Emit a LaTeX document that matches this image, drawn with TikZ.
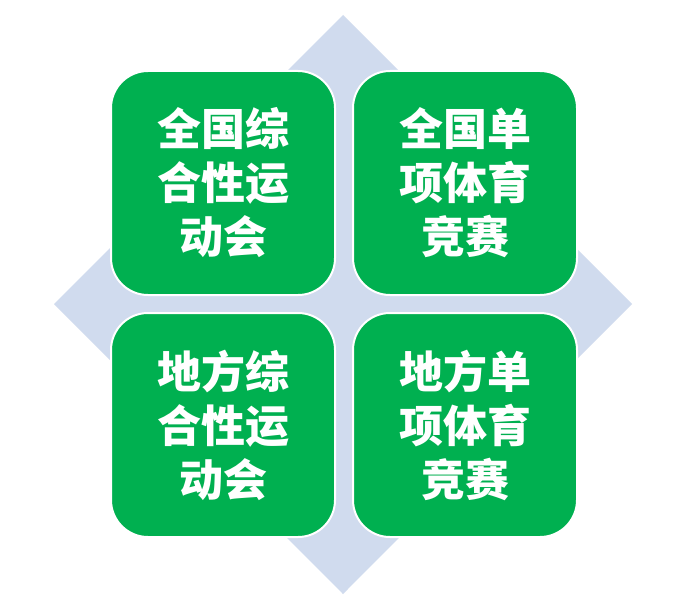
\documentclass[tikz,border=0pt]{standalone}
\usepackage{fontspec}
\newfontfamily\cjk{Noto Sans CJK SC}
\definecolor{boxgreen}{RGB}{0,176,80}
\definecolor{diamondblue}{RGB}{208,219,238}
\begin{document}
\begin{tikzpicture}[x=1pt,y=-1pt,
  greenbox/.style={rectangle, rounded corners=37pt, fill=boxgreen, draw=white, line width=2pt,
    minimum width=224pt, minimum height=224pt, inner sep=0pt, align=center, text=white,
    font=\cjk\bfseries\fontsize{44}{54}\selectfont}]
\useasboundingbox[fill=white] (0,0) rectangle (700,607);
\coordinate (dt) at (343,15);
\coordinate (dr) at (632,304);
\coordinate (db) at (343,594);
\coordinate (dl) at (54,304);
\fill[diamondblue] (dt) -- (dr) -- (db) -- (dl) -- cycle;
\node[greenbox] (tl) at (223,183) {全国综\\合性运\\动会};
\node[greenbox] (tr) at (465,183) {全国单\\项体育\\竞赛};
\node[greenbox] (bl) at (223,425) {地方综\\合性运\\动会};
\node[greenbox] (br) at (465,425) {地方单\\项体育\\竞赛};
\end{tikzpicture}
\end{document}
